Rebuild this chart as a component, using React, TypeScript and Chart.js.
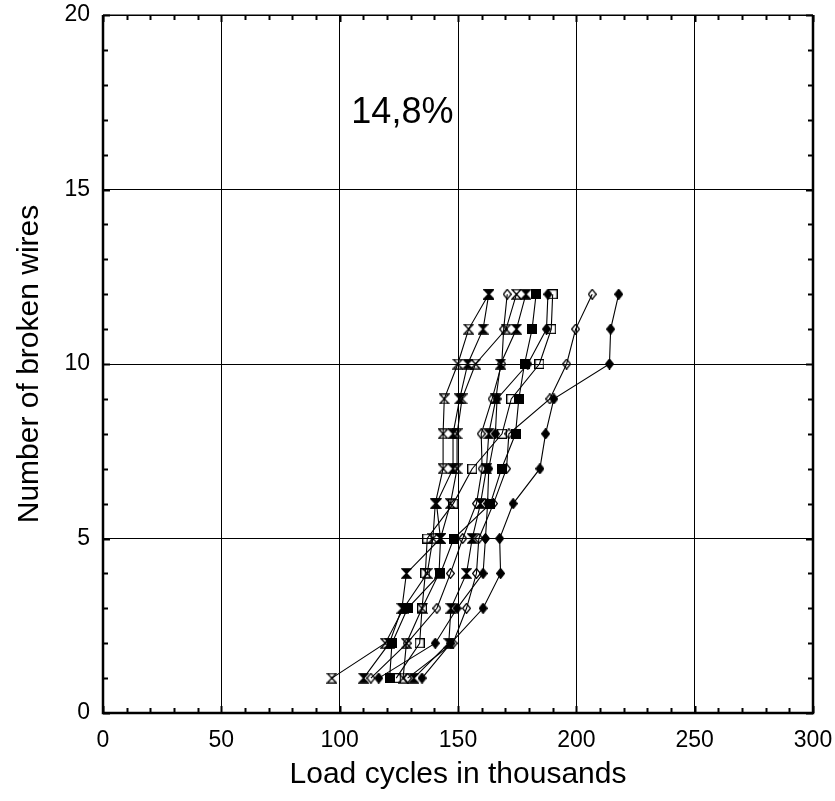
import React, { useEffect, useRef } from 'react';
import { Chart, registerables } from 'chart.js';
Chart.register(...registerables);

// Number of broken wires (y) for each sample
const brokenWires = [1, 2, 3, 4, 5, 6, 7, 8, 9, 10, 11, 12];

// Load cycles (thousands) at which each number of broken wires was reached
const sampleA = [96.7, 119.3, 127.0, 137.0, 139.4, 140.4, 143.7, 143.7, 144.2, 149.9, 154.5, 163.0];
const sampleB = [110.1, 121.0, 126.3, 128.2, 142.6, 140.9, 147.9, 147.9, 150.7, 154.1, 160.6, 163.0];
const sampleC = [126.8, 128.2, 134.8, 142.0, 142.6, 146.8, 149.6, 149.6, 151.7, 157.4, 170.3, 174.7];
const sampleD = [131.3, 146.1, 147.0, 153.6, 156.0, 159.5, 162.0, 163.0, 166.0, 168.0, 174.7, 178.7];
const sampleE = [121.1, 122.1, 128.7, 142.6, 148.2, 163.7, 168.4, 174.3, 175.7, 178.1, 181.3, 183.0];
const sampleF = [123.9, 133.8, 134.8, 136.2, 137.0, 148.0, 156.0, 168.6, 172.5, 184.4, 189.4, 190.0];
const sampleG = [116.5, 140.4, 149.6, 160.6, 161.6, 162.5, 163.0, 165.8, 166.5, 179.5, 187.4, 188.0];
const sampleH = [113.2, 128.5, 141.1, 146.8, 152.0, 157.8, 160.2, 159.8, 164.4, 168.5, 169.3, 170.8];
const sampleI = [128.7, 147.9, 153.6, 157.8, 158.8, 165.0, 170.5, 171.5, 188.8, 195.9, 199.7, 206.7];
const sampleJ = [134.8, 147.0, 160.6, 168.0, 167.6, 173.3, 184.6, 187.0, 190.5, 214.0, 214.5, 217.9];

const samples = [sampleA, sampleB, sampleC, sampleD, sampleE, sampleF, sampleG, sampleH, sampleI, sampleJ];
const markerKinds = ['hgOpen', 'hgFill', 'hgOpen', 'hgFill', 'sqFill', 'sqOpen', 'diaFill', 'diaOpen', 'diaOpen', 'diaFill'];

const annotationText = '14,8%';
const annotationX = 126.5;
const annotationY = 17.2;

const FONT = '"Liberation Sans", Arial, Helvetica, sans-serif';

function makeMarker(kind: string): HTMLCanvasElement {
  const c = document.createElement('canvas');
  let w = 11, h = 11;
  if (kind.startsWith('dia')) { w = 9; h = 11; }
  if (kind.startsWith('sq')) { w = 10; h = 10; }
  c.width = w; c.height = h;
  const g = c.getContext('2d')!;
  g.lineWidth = 1.3;
  g.strokeStyle = '#000';
  g.fillStyle = '#000';
  g.beginPath();
  if (kind.startsWith('hg')) {
    g.moveTo(1, 0.8);
    g.lineTo(w - 1, 0.8);
    g.lineTo(w / 2, h / 2);
    g.lineTo(w - 1, h - 0.8);
    g.lineTo(1, h - 0.8);
    g.lineTo(w / 2, h / 2);
    g.closePath();
  } else if (kind.startsWith('dia')) {
    g.moveTo(w / 2, 0.6);
    g.lineTo(w - 0.6, h / 2);
    g.lineTo(w / 2, h - 0.6);
    g.lineTo(0.6, h / 2);
    g.closePath();
  } else {
    g.rect(0.6, 0.6, w - 1.2, h - 1.2);
  }
  if (kind.endsWith('Fill')) g.fill();
  g.stroke();
  return c;
}

const framePlugin = {
  id: 'frameAndTicks',
  afterDraw(chart: any) {
    const { ctx, chartArea, scales } = chart;
    const { left, right, top, bottom } = chartArea;
    const xs = scales.x, ys = scales.y;
    ctx.save();
    ctx.strokeStyle = '#000';
    ctx.lineWidth = 2;
    for (let v = 0; v <= 300; v += 10) {
      const px = Math.round(xs.getPixelForValue(v)) + 0.5;
      const len = v % 50 === 0 ? 7 : 5;
      ctx.beginPath();
      ctx.moveTo(px, bottom); ctx.lineTo(px, bottom - len);
      ctx.moveTo(px, top); ctx.lineTo(px, top + len);
      ctx.stroke();
    }
    for (let v = 0; v <= 20; v += 1) {
      const py = Math.round(ys.getPixelForValue(v)) + 0.5;
      const len = v % 5 === 0 ? 7 : 5;
      ctx.beginPath();
      ctx.moveTo(left, py); ctx.lineTo(left + len, py);
      ctx.moveTo(right, py); ctx.lineTo(right - len, py);
      ctx.stroke();
    }
    ctx.lineWidth = 2.5;
    ctx.beginPath();
    ctx.moveTo(left, top); ctx.lineTo(left, bottom); ctx.lineTo(right, bottom); ctx.lineTo(right, top);
    ctx.stroke();
    ctx.lineWidth = 1.2;
    ctx.beginPath();
    ctx.moveTo(left, top); ctx.lineTo(right, top);
    ctx.stroke();
    ctx.fillStyle = '#000';
    ctx.font = `36px ${FONT}`;
    ctx.textAlign = 'center';
    ctx.textBaseline = 'middle';
    ctx.fillText(annotationText, xs.getPixelForValue(annotationX), ys.getPixelForValue(annotationY));
    ctx.restore();
  },
};

export default function App() {
  const ref = useRef<HTMLCanvasElement>(null);
  useEffect(() => {
    document.body.style.margin = '0';
    const markers: Record<string, HTMLCanvasElement> = {};
    ['hgOpen', 'hgFill', 'diaOpen', 'diaFill', 'sqOpen', 'sqFill'].forEach(k => { markers[k] = makeMarker(k); });
    const datasets = samples.map((s, i) => ({
      label: `Sample ${i + 1}`,
      data: s.map((x, j) => ({ x, y: brokenWires[j] })),
      borderColor: '#000',
      borderWidth: 1.1,
      backgroundColor: '#000',
      pointStyle: markers[markerKinds[i]],
      pointRadius: 5,
      showLine: true,
      tension: 0,
    }));
    const chart = new Chart(ref.current!, {
      type: 'scatter',
      data: { datasets },
      plugins: [framePlugin],
      options: {
        responsive: false,
        animation: false,
        devicePixelRatio: 1,
        layout: { padding: { top: 15, right: 22, bottom: 0, left: 0 } },
        plugins: { legend: { display: false }, tooltip: { enabled: false } },
        scales: {
          x: {
            type: 'linear',
            min: 0, max: 300,
            afterFit: (s: any) => { s.height = 88; s.paddingLeft = 0; s.paddingRight = 0; },
            ticks: { stepSize: 50, color: '#000', padding: 14, font: { size: 23, family: FONT }, maxRotation: 0 },
            grid: { color: '#000', lineWidth: 1, drawTicks: false },
            border: { display: false },
            title: { display: true, text: 'Load cycles in thousands', color: '#000', font: { size: 30, family: FONT }, padding: { bottom: 8, top: 0 } },
          },
          y: {
            type: 'linear',
            min: 0, max: 20,
            afterFit: (s: any) => { s.width = 103; s.paddingTop = 0; s.paddingBottom = 0; },
            ticks: { stepSize: 5, color: '#000', padding: 13, font: { size: 23, family: FONT } },
            grid: { color: '#000', lineWidth: 1, drawTicks: false },
            border: { display: false },
            title: { display: true, text: 'Number of broken wires', color: '#000', font: { size: 30, family: FONT }, padding: { top: 12, bottom: 0 } },
          },
        },
      },
    });
    return () => chart.destroy();
  }, []);
  return (
    <div style={{ position: 'absolute', left: 0, top: 0, width: 835, height: 801, background: '#fff' }}>
      <canvas ref={ref} width={835} height={801} />
    </div>
  );
}
